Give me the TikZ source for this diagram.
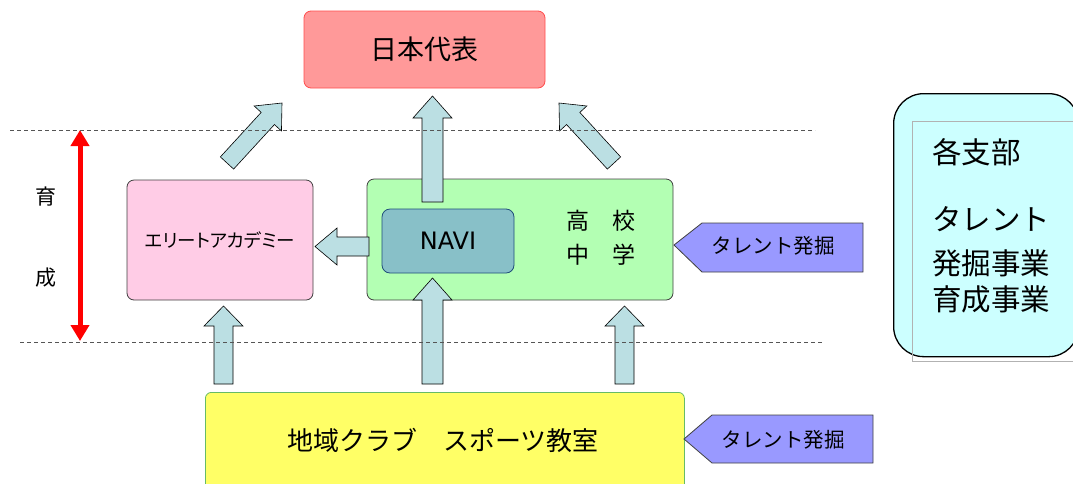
\documentclass[tikz,border=0pt]{standalone}
\usepackage{fontspec}
\setmainfont{Noto Sans CJK JP}
\newfontfamily\latinfont{DejaVu Sans}
\newfontfamily\propjp[RawFeature=+palt]{Noto Sans CJK JP}
\usetikzlibrary{calc,arrows.meta}
\definecolor{topfill}{HTML}{FF9999}
\definecolor{topdraw}{HTML}{FF4D4D}
\definecolor{pinkfill}{HTML}{FFCCE6}
\definecolor{greenfill}{HTML}{B3FFB3}
\definecolor{navifill}{HTML}{88C0C8}
\definecolor{navidraw}{HTML}{1F4E79}
\definecolor{arrfill}{HTML}{BBDFE3}
\definecolor{talfill}{HTML}{9999FF}
\definecolor{yelfill}{HTML}{FFFF66}
\definecolor{yeldraw}{HTML}{66BB66}
\definecolor{cyanfill}{HTML}{CCFFFF}
\definecolor{boxdraw}{HTML}{404040}
\definecolor{dashcol}{HTML}{555555}
\newcommand\blockarr[5]{%
  \coordinate (ba) at (#1);
  \coordinate (ti) at (#2);
  \coordinate (hb) at ($(ti)!#5!(ba)$);
  \draw[barrow] ($(ba)!#3!90:(ti)$) -- ($(hb)!#3!90:(ti)$) -- ($(hb)!#4!90:(ti)$) -- (ti)
     -- ($(hb)!#4!-90:(ti)$) -- ($(hb)!#3!-90:(ti)$) -- ($(ba)!#3!-90:(ti)$) -- cycle;
}
\begin{document}
\begin{tikzpicture}[x=1pt,y=-1pt,
  box/.style={draw=boxdraw, line width=0.8pt, rounded corners=7pt, inner sep=0pt},
  barrow/.style={draw=black, fill=arrfill, line width=0.6pt, line join=miter},
  talent/.style={draw=boxdraw, fill=talfill, line width=0.8pt},
  dashline/.style={draw=dashcol, line width=0.8pt, dash pattern=on 4pt off 3pt},
  redarr/.style={draw=red, line width=5pt, {Triangle[length=16pt,width=18pt]}-{Triangle[length=16pt,width=18pt]}}
]
\useasboundingbox (0,0) rectangle (1073,483);
\clip (0,0) rectangle (1073,483);

% boxes
\node[box, draw=topdraw, fill=topfill, minimum width=241pt, minimum height=77pt,
  font=\fontsize{27}{32}\selectfont] (japan) at (424.5,49.5) {日本代表};
\node[box, fill=pinkfill, minimum width=186pt, minimum height=120pt,
  font=\propjp\fontsize{18.5}{22}\selectfont] (elite) at (220,240) {エリートアカデミー};
\node[box, fill=greenfill, minimum width=306pt, minimum height=121pt] (school) at (520,239.5) {};
\node[box, draw=navidraw, fill=navifill, minimum width=132pt, minimum height=64pt,
  rounded corners=8pt, font=\latinfont\fontsize{24}{28}\selectfont] (navi) at (448,241) {NAVI};
\node[font=\fontsize{23}{26}\selectfont] (koukou) at (601,221) {高　校};
\node[font=\fontsize{23}{26}\selectfont] (chugaku) at (601,255) {中　学};
\node[box, draw=yeldraw, fill=yelfill, minimum width=479pt, minimum height=130pt, anchor=north west,
  rounded corners=6pt] (club) at (205,392) {};
\node[font=\fontsize{26}{30}\selectfont] (clubtext) at (443,440) {地域クラブ　スポーツ教室};

% talent pentagons
\draw[talent] (674,245) -- (702,223) -- (863,223) -- (863,272) -- (702,272) -- cycle;
\node[font=\fontsize{20.5}{24}\selectfont] (tal1) at (773,246) {タレント発掘};
\draw[talent] (684,439) -- (712,415) -- (873,415) -- (873,463) -- (712,463) -- cycle;
\node[font=\fontsize{20.5}{24}\selectfont] (tal2) at (783,440) {タレント発掘};

% right box
\node[draw=black, line width=1.3pt, fill=cyanfill, rounded corners=30pt, anchor=north west,
  minimum width=185pt, minimum height=263pt, inner sep=0pt] (branch) at (893,93) {};
\draw[draw=black!30, line width=1pt] (1090,121) -- (912,121) -- (912,361) -- (1090,361);
\begin{scope}[every node/.style={anchor=west, inner sep=0pt, font=\fontsize{29.5}{34}\selectfont}]
\node (b1) at (932,152) {各支部};
\node (b2) at (932,219) {タレント};
\node (b3) at (932,263) {発掘事業};
\node (b4) at (932,299) {育成事業};
\end{scope}

% left side
\coordinate (rtop) at (80,130);
\coordinate (rbot) at (80,341);
\draw[redarr] (rtop) -- (rbot);
\node[font=\fontsize{21}{24}\selectfont] (iku) at (46,197) {育};
\node[font=\fontsize{21}{24}\selectfont] (sei) at (46,278) {成};

% block arrows
\blockarr{227,163}{282,103}{9pt}{18.5pt}{21pt}
\blockarr{432.5,202}{432.5,96}{10.5pt}{19.5pt}{22pt}
\blockarr{614,163}{559,103}{9pt}{18.5pt}{21pt}
\blockarr{369,246.5}{315,246.5}{9.5pt}{18.5pt}{22pt}
\blockarr{223.5,384}{223.5,306}{9.5pt}{19.5pt}{20pt}
\blockarr{432.5,384}{432.5,278}{10.5pt}{19.5pt}{22pt}
\blockarr{624.5,384}{624.5,306}{9.5pt}{19.5pt}{20pt}

% dashed lines
\coordinate (d1a) at (10,130);
\coordinate (d1b) at (815,130);
\coordinate (d2a) at (20,342);
\coordinate (d2b) at (822,342);
\draw[dashline] (d1a) -- (d1b);
\draw[dashline] (d2a) -- (d2b);
\end{tikzpicture}
\end{document}
